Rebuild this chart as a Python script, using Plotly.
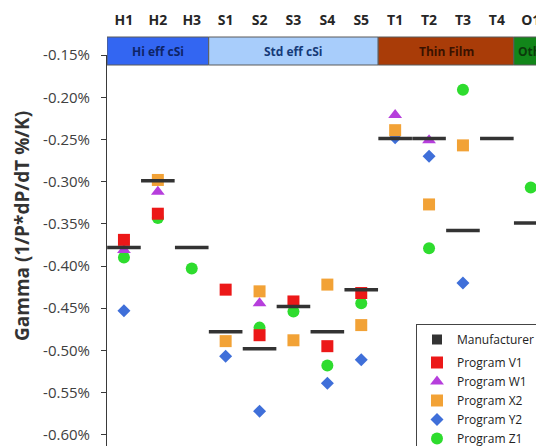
import plotly.graph_objects as go

# ---- data (values in % per K) ----
categories = ['H1', 'H2', 'H3', 'S1', 'S2', 'S3', 'S4', 'S5', 'T1', 'T2', 'T3', 'T4', 'O1']
manufacturer = [-0.378, -0.299, -0.378, -0.478, -0.498, -0.448, -0.478, -0.428, -0.249, -0.249, -0.358, -0.249, -0.349]
program_v1 = [-0.369, -0.338, None, -0.428, -0.482, -0.442, -0.495, -0.432, None, None, None, None, None]
program_w1 = [-0.381, -0.312, None, None, -0.444, None, None, None, -0.221, -0.251, None, None, None]
program_x2 = [None, -0.298, None, -0.489, -0.430, -0.488, -0.422, -0.470, -0.239, -0.327, -0.257, None, None]
program_y2 = [-0.453, None, None, -0.507, -0.572, None, -0.539, -0.511, -0.248, -0.270, -0.420, None, None]
program_z1 = [-0.390, -0.343, -0.403, None, -0.473, -0.454, -0.518, -0.444, None, -0.379, -0.191, None, -0.307]

groups = ['Hi eff cSi', 'Std eff cSi', 'Thin Film', 'Other']
group_sizes = [3, 5, 4, 2]
group_fill = ['#3366F2', '#A8CDFB', '#A93C08', '#12861A']
group_text = ['#0E2466', '#153A78', '#3A1200', '#0B3A0B']

y_ticks = [-0.15, -0.20, -0.25, -0.30, -0.35, -0.40, -0.45, -0.50, -0.55, -0.60]
y_ticktext = ['%.2f%%' % v for v in y_ticks]

FONT = 'Open Sans'

# plot-area geometry in screen pixels (page body has an 8px margin)
PAGE_OFF = 8
L, T, W, H = 107, 55, 437, 391

fig = go.Figure()

series = [
    ('Program Z1', program_z1, 'circle', '#2EDC2E', 12, 6),
    ('Program Y2', program_y2, 'diamond', '#3F6FD9', 10, 5),
    ('Program X2', program_x2, 'square', '#F2A236', 12, 4),
    ('Program W1', program_w1, 'triangle-up', '#B63EDC', 12, 3),
    ('Program V1', program_v1, 'square', '#EC1818', 12, 2),
]
for name, vals, sym, col, size, rank in series:
    fig.add_trace(go.Scatter(
        x=categories, y=vals, mode='markers', name=name,
        legendgroup='prog', legendrank=rank,
        marker=dict(symbol=sym, color=col, size=size, line=dict(width=0)),
    ))

# manufacturer dashes
fig.add_trace(go.Scatter(
    x=categories, y=manufacturer, mode='markers', name='Manufacturer',
    showlegend=False,
    marker=dict(symbol='line-ew', size=24, line=dict(width=3.5, color='#333333')),
))
# legend swatch for manufacturer
fig.add_trace(go.Scatter(
    x=[None], y=[None], mode='markers', name='Manufacturer',
    legendgroup='man', legendrank=1,
    marker=dict(symbol='square', color='#333333', size=10),
))

# category group band above the plot
shapes = []
annotations = []
start = -0.5
top_ext = 1 + 18 / H
bot_ext = 1 - 10 / H
for g, n, fc, tc in zip(groups, group_sizes, group_fill, group_text):
    shapes.append(dict(type='rect', xref='x', yref='paper', x0=start, x1=start + n,
                       y0=bot_ext, y1=top_ext, fillcolor=fc,
                       line=dict(color='#5A5A5A', width=1), layer='above'))
    if g == 'Other':
        annotations.append(dict(x=start + 0.05, y=(top_ext + bot_ext) / 2, xref='x', yref='paper',
                                text=g, showarrow=False, xanchor='left', yanchor='middle',
                                font=dict(family=FONT, size=12, color=tc, weight='bold')))
    else:
        annotations.append(dict(x=start + n / 2, y=(top_ext + bot_ext) / 2, xref='x', yref='paper',
                                text=g, showarrow=False, xanchor='center', yanchor='middle',
                                font=dict(family=FONT, size=12, color=tc, weight='bold')))
    start += n

# y-axis title
annotations.append(dict(x=(22 - L) / W, y=1 - (226 - T) / H, xref='paper', yref='paper',
                        text='Gamma (1/P*dP/dT %/K)', textangle=-90, showarrow=False,
                        xanchor='center', yanchor='middle',
                        font=dict(family=FONT, size=19, color='#333333', weight='bold')))

fig.update_layout(
    width=544 - PAGE_OFF, height=446 - PAGE_OFF,
    margin=dict(l=L - PAGE_OFF, r=0, t=T - PAGE_OFF, b=0, autoexpand=False),
    template='none',
    paper_bgcolor='white', plot_bgcolor='white',
    font=dict(family=FONT, color='#333333'),
    shapes=shapes,
    annotations=annotations,
    showlegend=True,
    legend=dict(
        x=(416 - L) / W, y=1 - (324 - T) / H, xanchor='left', yanchor='top',
        xref='paper', yref='paper',
        bgcolor='white', bordercolor='#444444', borderwidth=1,
        font=dict(family=FONT, size=12, color='#222222'),
        traceorder='grouped', tracegroupgap=4,
    ),
    xaxis=dict(
        type='category', categoryorder='array', categoryarray=categories,
        range=[-0.5, W / 33.9 - 0.5], automargin=False,
        side='top', showline=False, showgrid=False, zeroline=False, ticks='',
        tickfont=dict(family=FONT, size=14, color='#262626', weight='bold'),
        ticklabelstandoff=26,
    ),
    yaxis=dict(
        range=[-0.6133, -0.1499], automargin=False,
        tickvals=y_ticks, ticktext=y_ticktext,
        showline=True, linecolor='#3A3A3A', linewidth=1,
        ticks='outside', ticklen=5, tickcolor='#3A3A3A',
        showgrid=False, zeroline=False,
        tickfont=dict(family=FONT, size=15, color='#404040'),
        ticklabelstandoff=8,
    ),
)

fig.write_html('out.html')
